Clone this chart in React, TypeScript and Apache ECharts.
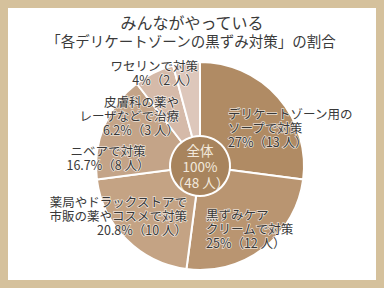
import React, { useEffect, useRef } from "react";
import * as echarts from "echarts";

const titleLine1 = "みんながやっている";
const titleLine2 = "「各デリケートゾーンの黒ずみ対策」の割合";

const names = [
  "デリケートゾーン用の\nソープで対策",
  "黒ずみケア\nクリームで対策",
  "薬局やドラックストアで\n市販の薬やコスメで対策",
  "ニベアで対策",
  "皮膚科の薬や\nレーザなどで治療",
  "ワセリンで対策",
];
const counts = [13, 12, 10, 8, 3, 2];
const percents = ["27%", "25%", "20.8%", "16.7%", "6.2%", "4%"];
const totalLabel = ["全体", "100%", "（48 人）"];

const sliceColors = ["#b08b64", "#b99571", "#c4a384", "#c4a488", "#d5baa9", "#ddc7bb"];
const labelPos: [number, number, string][] = [
  [228, 127, "left"],
  [206, 228, "left"],
  [187, 215, "right"],
  [108, 157, "center"],
  [179, 115, "right"],
  [198, 72, "right"],
];

export default function App() {
  const ref = useRef<HTMLDivElement>(null);
  useEffect(() => {
    if (!ref.current) return;
    const chart = echarts.init(ref.current, undefined, { renderer: "svg" });
    const font = '"Noto Sans CJK JP", "Noto Sans", sans-serif';
    const total = counts.reduce((a, b) => a + b, 0);
    chart.setOption({
      animation: false,
      backgroundColor: "#d5c19c",
      textStyle: { fontFamily: font },
      graphic: [
        {
          type: "rect",
          shape: { x: 8, y: 8, width: 368, height: 272 },
          style: { fill: "#ffffff" },
          z: -10,
        },
        {
          type: "text",
          x: 192,
          y: 22,
          style: {
            text: titleLine1,
            fontSize: 16,
            fontFamily: font,
            fill: "#3a3a3a",
            align: "center",
            verticalAlign: "middle",
          },
        },
        {
          type: "text",
          x: 191,
          y: 40,
          style: {
            text: titleLine2,
            fontSize: 14.5,
            fontFamily: font,
            fill: "#3a3a3a",
            align: "center",
            verticalAlign: "middle",
          },
        },
      ],
      series: [
        {
          type: "pie",
          center: [200, 166],
          radius: [0, 104],
          startAngle: 90,
          clockwise: true,
          silent: true,
          itemStyle: { borderColor: "#ffffff", borderWidth: 2 },
          label: {
            show: true,
            position: "inside",
            fontFamily: font,
            fontSize: 12.5,
            lineHeight: 14,
            color: "#383838",
            textBorderColor: "rgba(255,255,255,0.7)",
            textBorderWidth: 1.5,
            formatter: (p: any) =>
              `${names[p.dataIndex]}\n${percents[p.dataIndex]}（${counts[p.dataIndex]} 人）`,
          },
          labelLine: { show: false },
          labelLayout: (p: any) => {
            const lp = labelPos[p.dataIndex];
            return { x: lp[0], y: lp[1], align: lp[2], verticalAlign: "middle" };
          },
          data: names.map((n, i) => ({
            name: n,
            value: counts[i],
            itemStyle: { color: sliceColors[i] },
          })),
        },
        {
          type: "pie",
          center: [200, 166],
          radius: [0, 30],
          silent: true,
          z: 5,
          itemStyle: { color: "#a8845d", borderColor: "#ffffff", borderWidth: 2 },
          label: {
            show: true,
            position: "center",
            fontFamily: font,
            fontSize: 13.5,
            lineHeight: 16,
            color: "#f2e9dc",
            formatter: () => totalLabel.join("\n"),
          },
          labelLine: { show: false },
          data: [{ name: "全体", value: total }],
        },
      ],
    });
    return () => chart.dispose();
  }, []);
  return (
    <div
      ref={ref}
      style={{ position: "fixed", left: 0, top: 0, width: 384, height: 288 }}
    />
  );
}
